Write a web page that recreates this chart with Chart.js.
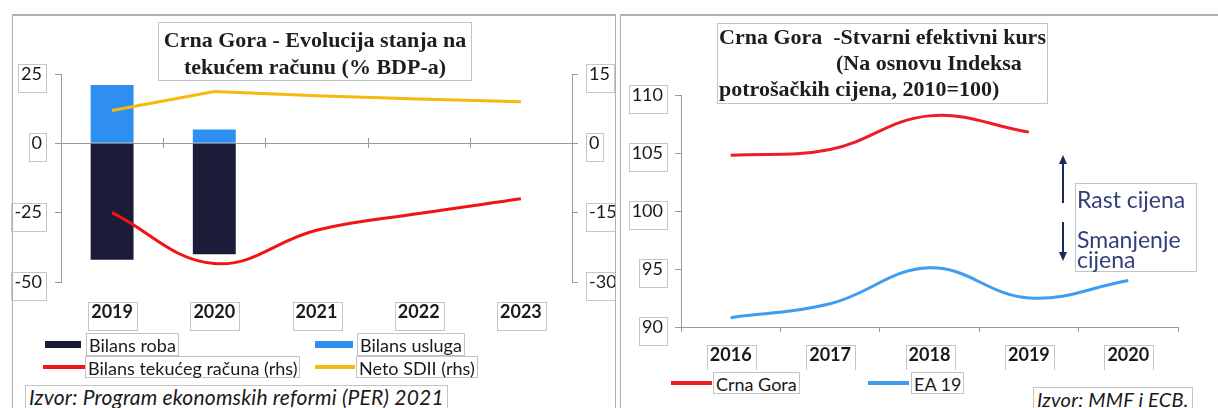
<!DOCTYPE html>
<html>
<head>
<meta charset="utf-8">
<script src="https://cdn.jsdelivr.net/npm/chart.js@4.4.1/dist/chart.umd.min.js"></script>
<style>
  body { margin: 0; width: 1218px; height: 408px; overflow: hidden; background: #fff; position: relative; font-family: Lato, sans-serif; color: #1a1a1a; }
  canvas { position: absolute; top: 0; }
  .line { position: absolute; background: #b0b0b0; }
  .box { position: absolute; border: 1px solid #c4c4c4; white-space: nowrap; box-sizing: border-box; }
  .title { font-family: "Liberation Serif", serif; font-weight: bold; font-size: 22px; line-height: 27px; color: #1e1e1e; }
  .lbl { font-size: 18px; line-height: 22px; padding: 0 2px; }
  .src { font-size: 21px; font-style: italic; letter-spacing: 0.2px; line-height: 22px; padding: 0 3px; }
  .sw { position: absolute; }
</style>
</head>
<body>
<div class="line" style="left:12px;top:14px;width:604px;height:2px"></div>
<div class="line" style="left:12px;top:14px;width:1px;height:394px"></div>
<div class="line" style="left:615px;top:14px;width:1px;height:394px"></div>
<div class="line" style="left:620px;top:14px;width:598px;height:2px"></div>
<div class="line" style="left:620px;top:14px;width:1px;height:394px"></div>

<canvas id="chartLeft" width="615" height="335" style="left:0"></canvas>
<canvas id="chartRight" width="603" height="370" style="left:615px"></canvas>

<div class="box title" style="left:158px;top:22px;width:314px;height:59px;text-align:center;padding-top:3px">
  Crna Gora - Evolucija stanja na<br>tekućem računu (% BDP-a)
</div>
<div class="box title" style="left:717px;top:23px;width:331px;height:81px;line-height:26px;padding:0 0 0 1px">
  Crna Gora&nbsp; -Stvarni efektivni kurs<br><span style="margin-left:117px">(Na osnovu Indeksa</span><br>potrošačkih cijena, 2010=100)
</div>

<div class="box src" style="left:25px;top:385px;height:30px;padding-top:0">Izvor: Program ekonomskih reformi (PER) 2021</div>
<div class="box src" style="left:1033px;top:387px;height:30px;font-size:20px">Izvor: MMF i ECB.</div>

<svg style="position:absolute;left:1050px;top:150px" width="26" height="120">
  <line x1="13" y1="53" x2="13" y2="12" stroke="#1b2a5a" stroke-width="2"/>
  <polygon points="13,5 9,14 17,14" fill="#1b2a5a"/>
  <line x1="13" y1="72" x2="13" y2="103" stroke="#1b2a5a" stroke-width="2"/>
  <polygon points="13,111 9,102 17,102" fill="#1b2a5a"/>
</svg>
<div class="box" style="left:1075px;top:183px;width:122px;height:89px;font-size:23px;line-height:20px;color:#33407a;padding:5px 0 0 1px">
  Rast cijena<br><br>Smanjenje<br>cijena
</div>

<script>
const leftYears = ['2019', '2020', '2021', '2022', '2023'];
const bilansRoba = [-42, -40, null, null, null];
const bilansUsluga = [21, 5, null, null, null];
const bilansTekuceg = [-15, -26, -18.8, -15.2, -12];
const netoSDII = [7.1, 11.2, 10.3, 9.6, 9.0];
const leftAxisTicks = [-50, -25, 0, 25];
const rhsAxisTicks = [-30, -15, 0, 15];

const rightYears = ['2016', '2017', '2018', '2019', '2020'];
const crnaGora = [104.8, 105.3, 108.2, 106.8, null];
const ea19 = [90.8, 92.0, 95.1, 92.5, 94.0];
const kursTicks = [90, 95, 100, 105, 110];

Chart.defaults.font.family = 'Lato';
Chart.defaults.color = '#1a1a1a';
const AXIS = '#9a9a9a';

// thin grey frames round every tick label, as in the source picture
const labelBoxes = {
  id: 'labelBoxes',
  afterDraw(chart) {
    const ctx = chart.ctx;
    ctx.save();
    ctx.strokeStyle = '#c6c6c6';
    ctx.lineWidth = 1;
    Object.values(chart.scales).forEach(scale => {
      const o = scale.options;
      const font = Chart.helpers.toFont(o.ticks.font);
      ctx.font = font.string;
      const tl = o.grid.drawTicks ? o.grid.tickLength : 0;
      scale.ticks.forEach((t, i) => {
        const w = ctx.measureText(t.label).width;
        let x0, cy;
        if (scale.isHorizontal()) {
          x0 = scale.getPixelForTick(i) - w / 2;
          cy = scale.top + tl + o.ticks.padding + font.lineHeight / 2;
        } else {
          cy = scale.getPixelForTick(i);
          x0 = o.position === 'left' ? scale.right - tl - o.ticks.padding - w : scale.left + tl + o.ticks.padding;
        }
        ctx.strokeRect(Math.round(x0 - 3) + 0.5, Math.round(cy - 10) + 0.5, Math.round(w + 7), 28);
      });
    });
    ctx.restore();
  }
};

// small category ticks sitting on the zero line
const zeroTicks = {
  id: 'zeroTicks',
  beforeDatasetsDraw(chart) {
    const x = chart.scales.x, y = chart.scales.y, ctx = chart.ctx;
    const y0 = Math.round(y.getPixelForValue(0));
    const band = x.getPixelForTick(1) - x.getPixelForTick(0);
    ctx.save();
    ctx.strokeStyle = AXIS;
    ctx.lineWidth = 1;
    ctx.beginPath();
    for (let i = 0; i < x.ticks.length; i++) {
      const xb = Math.round(x.getPixelForTick(i) + band / 2) + 0.5;
      ctx.moveTo(xb, y0 - 5);
      ctx.lineTo(xb, y0 + 5);
    }
    ctx.stroke();
    ctx.restore();
  }
};

const leftChart = new Chart(document.getElementById('chartLeft'), {
  type: 'bar',
  data: {
    labels: leftYears,
    datasets: [
      { type: 'line', label: 'Bilans tekućeg računa (rhs)', data: bilansTekuceg, yAxisID: 'y1',
        borderColor: '#f01414', borderWidth: 3, pointRadius: 0, tension: 0.4, order: 0 },
      { type: 'line', label: 'Neto SDII (rhs)', data: netoSDII, yAxisID: 'y1',
        borderColor: '#f6b90c', borderWidth: 3, pointRadius: 0, tension: 0, order: 0 },
      { label: 'Bilans roba', data: bilansRoba, backgroundColor: '#1b1d38',
        categoryPercentage: 1, barPercentage: 0.42, order: 1 },
      { label: 'Bilans usluga', data: bilansUsluga, backgroundColor: '#2f8ff0',
        categoryPercentage: 1, barPercentage: 0.42, order: 1 }
    ]
  },
  options: {
    responsive: false,
    animation: false,
    layout: { padding: { top: 74, right: 0, bottom: 0, left: 0 } },
    plugins: { legend: { display: false }, tooltip: { enabled: false } },
    scales: {
      x: {
        stacked: true,
        grid: { display: false, drawTicks: false },
        border: { display: false },
        ticks: { font: { size: 18, weight: 'bold' }, padding: 19 },
        afterFit: s => { s.height = 53; }
      },
      y: {
        stacked: true,
        position: 'left',
        min: -50, max: 25,
        afterBuildTicks: s => { s.ticks = leftAxisTicks.map(v => ({ value: v })); },
        grid: { color: c => c.tick && c.tick.value === 0 ? AXIS : 'rgba(0,0,0,0)', tickColor: AXIS, tickLength: 6 },
        border: { display: true, color: AXIS },
        ticks: { font: { size: 18 }, padding: 13 },
        afterFit: s => { s.width = 61; }
      },
      y1: {
        position: 'right',
        min: -30, max: 15,
        afterBuildTicks: s => { s.ticks = rhsAxisTicks.map(v => ({ value: v })); },
        grid: { drawOnChartArea: false, color: AXIS, tickLength: 6 },
        border: { display: true, color: AXIS },
        ticks: { font: { size: 18 }, padding: 11 },
        afterFit: s => { s.width = 43; }
      }
    }
  },
  plugins: [zeroTicks, labelBoxes]
});

const rightChart = new Chart(document.getElementById('chartRight'), {
  type: 'line',
  data: {
    labels: rightYears,
    datasets: [
      { label: 'Crna Gora', data: crnaGora, borderColor: '#ee1c24', borderWidth: 3, pointRadius: 0, tension: 0.4 },
      { label: 'EA 19', data: ea19, borderColor: '#3d9df0', borderWidth: 3, pointRadius: 0, tension: 0.4 }
    ]
  },
  options: {
    responsive: false,
    animation: false,
    layout: { padding: { top: 95, right: 40, bottom: 0, left: 0 } },
    plugins: { legend: { display: false }, tooltip: { enabled: false } },
    scales: {
      x: {
        offset: true,
        grid: { offset: true, drawOnChartArea: false, color: AXIS, tickLength: 5 },
        border: { display: true, color: AXIS },
        ticks: { font: { size: 18, weight: 'bold' }, padding: 12 },
        afterFit: s => { s.height = 43; }
      },
      y: {
        min: 90, max: 110,
        afterBuildTicks: s => { s.ticks = kursTicks.map(v => ({ value: v })); },
        grid: { drawOnChartArea: false, color: AXIS, tickLength: 6 },
        border: { display: true, color: AXIS },
        ticks: { font: { size: 18 }, padding: 12 },
        afterFit: s => { s.width = 66; }
      }
    }
  },
  plugins: [labelBoxes]
});

// HTML legends built from the chart datasets
function legendItem(chart, idx, sx, sw, sh, bx, top, h) {
  const ds = chart.data.datasets[idx];
  const color = ds.type === 'line' || chart.config.type === 'line' ? ds.borderColor : ds.backgroundColor;
  const s = document.createElement('div');
  s.className = 'sw';
  s.style.cssText = `left:${sx}px;top:${top + h / 2 - sh / 2}px;width:${sw}px;height:${sh}px;background:${color}`;
  document.body.appendChild(s);
  const t = document.createElement('div');
  t.className = 'box lbl';
  t.style.cssText = `left:${bx}px;top:${top}px;height:${h}px;line-height:${h}px`;
  t.textContent = ds.label;
  document.body.appendChild(t);
}
legendItem(leftChart, 2, 45, 36, 7, 86, 333, 23);
legendItem(leftChart, 3, 315, 38, 7, 357, 333, 23);
legendItem(leftChart, 0, 43, 42, 4, 85, 356, 22);
legendItem(leftChart, 1, 315, 40, 4, 356, 356, 22);
legendItem(rightChart, 0, 671, 41, 4, 713, 372, 22);
legendItem(rightChart, 1, 868, 41, 4, 911, 372, 22);
</script>
</body>
</html>
